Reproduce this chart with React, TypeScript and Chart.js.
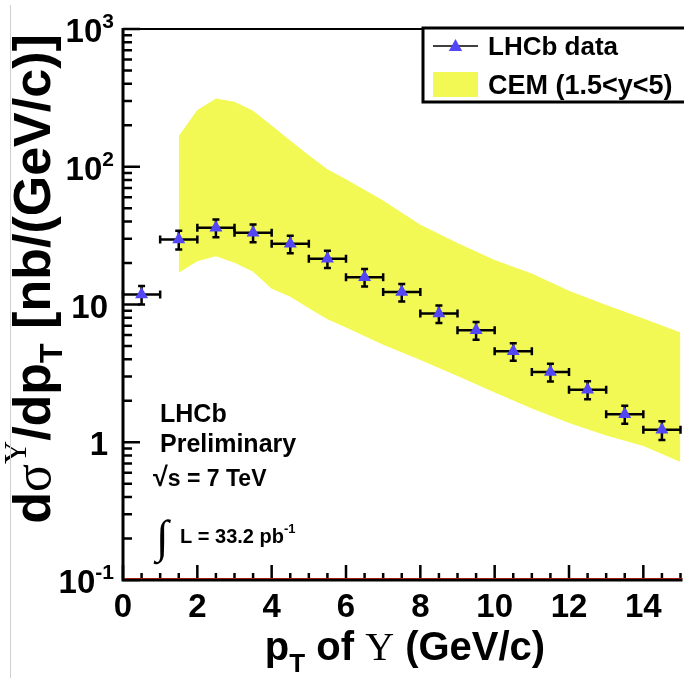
import React, { useEffect, useRef } from 'react';
import { Chart, registerables } from 'chart.js';

Chart.register(...registerables);

// ---------- data ----------
const ptBinCenters = [0.5, 1.5, 2.5, 3.5, 4.5, 5.5, 6.5, 7.5, 8.5, 9.5, 10.5, 11.5, 12.5, 13.5, 14.5];
const ptBinHalfWidths = [0.5, 0.5, 0.5, 0.5, 0.5, 0.5, 0.5, 0.5, 0.5, 0.5, 0.5, 0.5, 0.5, 0.5, 0.5];
const lhcbValues = [11.8, 29.7, 36.1, 33.2, 27.6, 21.5, 15.8, 12.3, 8.6, 6.5, 4.57, 3.24, 2.41, 1.6, 1.23];
const lhcbErrors = [1.8, 4.6, 5.3, 4.9, 4.0, 3.1, 2.3, 1.8, 1.25, 0.95, 0.67, 0.48, 0.36, 0.24, 0.19];

const cemPt = [1.5, 2, 2.5, 3, 3.5, 4, 4.5, 5, 5.5, 6, 7, 8, 9, 10, 11, 12, 13, 14, 15];
const cemUpper = [167, 258, 313, 296, 255, 199, 155, 121, 96, 81, 57, 38, 28, 21, 16.8, 12.6, 9.9, 7.9, 6.25];
const cemLower = [17, 20.6, 22.4, 20.1, 17.3, 13.0, 11.4, 9.4, 7.8, 6.8, 5.1, 3.95, 3.03, 2.3, 1.76, 1.38, 1.12, 0.94, 0.72];

const xTickValues = [0, 2, 4, 6, 8, 10, 12, 14];
const xTickLabels = ['0', '2', '4', '6', '8', '10', '12', '14'];
const yDecadeValues = [0.1, 1, 10, 100, 1000];
const yTickBases = ['10', '1', '10', '10', '10'];
const yTickExps = ['-1', '', '', '2', '3'];

const legendLabels = ['LHCb data', 'CEM (1.5<y<5)'];

// ---------- style ----------
const SANS = "'Liberation Sans', Arial, Helvetica, sans-serif";
const SERIF = "'Liberation Serif', 'DejaVu Serif', serif";
const YELLOW = 'rgb(243, 249, 84)';
const BLUE = 'rgb(82, 70, 245)';

type Seg = { t: string; f: string; dy?: number };

function richWidth(ctx: CanvasRenderingContext2D, segs: Seg[]) {
  let w = 0;
  for (const s of segs) {
    ctx.font = s.f;
    w += ctx.measureText(s.t).width;
  }
  return w;
}

function drawRich(ctx: CanvasRenderingContext2D, segs: Seg[], x: number, y: number, align: 'left' | 'center' | 'right') {
  const w = richWidth(ctx, segs);
  let cx = align === 'left' ? x : align === 'center' ? x - w / 2 : x - w;
  ctx.textAlign = 'left';
  ctx.textBaseline = 'alphabetic';
  for (const s of segs) {
    ctx.font = s.f;
    ctx.fillText(s.t, cx, y + (s.dy || 0));
    cx += ctx.measureText(s.t).width;
  }
}

function drawTriangle(ctx: CanvasRenderingContext2D, x: number, y: number, r: number) {
  ctx.beginPath();
  ctx.moveTo(x, y - r);
  ctx.lineTo(x + r * 0.95, y + r * 0.7);
  ctx.lineTo(x - r * 0.95, y + r * 0.7);
  ctx.closePath();
  ctx.fillStyle = BLUE;
  ctx.fill();
}

const errorBarPlugin = {
  id: 'errorBars',
  beforeDatasetDraw(chart: any, args: any) {
    if (args.index !== 2) return;
    const { ctx, scales } = chart;
    const xs = scales.x;
    const ys = scales.y;
    ctx.save();
    ctx.strokeStyle = '#000';
    ctx.lineWidth = 2.5;
    ctx.lineCap = 'butt';
    for (let i = 0; i < ptBinCenters.length; i++) {
      const c = ptBinCenters[i];
      const hw = ptBinHalfWidths[i];
      const v = lhcbValues[i];
      const e = lhcbErrors[i];
      const px = xs.getPixelForValue(c);
      const py = ys.getPixelForValue(v);
      const xl = xs.getPixelForValue(c - hw);
      const xr = xs.getPixelForValue(c + hw);
      const yt = ys.getPixelForValue(v + e);
      const yb = ys.getPixelForValue(v - e);
      ctx.beginPath();
      ctx.moveTo(xl, py);
      ctx.lineTo(xr, py);
      ctx.moveTo(xl, py - 4);
      ctx.lineTo(xl, py + 4);
      ctx.moveTo(xr, py - 4);
      ctx.lineTo(xr, py + 4);
      ctx.moveTo(px, yt);
      ctx.lineTo(px, yb);
      ctx.moveTo(px - 3.5, yt);
      ctx.lineTo(px + 3.5, yt);
      ctx.moveTo(px - 3.5, yb);
      ctx.lineTo(px + 3.5, yb);
      ctx.stroke();
    }
    ctx.restore();
  },
};

const framePlugin = {
  id: 'rootFrame',
  afterDraw(chart: any) {
    const { ctx, scales, chartArea } = chart;
    const xs = scales.x;
    const ys = scales.y;
    const L = chartArea.left;
    const R = chartArea.right;
    const T = chartArea.top;
    const B = chartArea.bottom;
    ctx.save();
    ctx.fillStyle = '#000';
    ctx.strokeStyle = '#000';

    // top frame line
    ctx.lineWidth = 2;
    ctx.beginPath();
    ctx.moveTo(L, T);
    ctx.lineTo(R + 2, T);
    ctx.stroke();

    // y ticks
    ctx.lineWidth = 2.5;
    ctx.beginPath();
    for (let d = -1; d < 3; d++) {
      for (let m = 1; m <= 9; m++) {
        const v = m * Math.pow(10, d);
        const py = ys.getPixelForValue(v);
        ctx.moveTo(L, py);
        ctx.lineTo(L + (m === 1 ? 17 : 9), py);
      }
    }
    const pTop = ys.getPixelForValue(1000);
    ctx.moveTo(L, pTop);
    ctx.lineTo(L + 17, pTop);
    ctx.stroke();

    // x ticks
    ctx.beginPath();
    for (let k = 0; k <= 30; k++) {
      const v = k * 0.5;
      const px = xs.getPixelForValue(v);
      ctx.moveTo(px, B);
      ctx.lineTo(px, B - (k % 4 === 0 ? 15 : 7));
    }
    ctx.stroke();

    // axis lines
    ctx.lineWidth = 3;
    ctx.beginPath();
    ctx.moveTo(L, T - 1);
    ctx.lineTo(L, B + 1.5);
    ctx.moveTo(L - 1.5, B);
    ctx.lineTo(R + 2, B);
    ctx.stroke();
    ctx.strokeStyle = '#a0180f';
    ctx.lineWidth = 1;
    ctx.beginPath();
    ctx.moveTo(L + 1.5, B - 1.5);
    ctx.lineTo(R + 2, B - 1.5);
    ctx.stroke();

    // y tick labels
    ctx.fillStyle = '#000';
    for (let i = 0; i < yDecadeValues.length; i++) {
      const py = ys.getPixelForValue(yDecadeValues[i]);
      const segs: Seg[] = [{ t: yTickBases[i], f: `bold 33px ${SANS}` }];
      if (yTickExps[i]) segs.push({ t: yTickExps[i], f: `bold 21px ${SANS}`, dy: -14 });
      drawRich(ctx, segs, yTickExps[i] ? 114 : 108, py + 13, 'right');
    }

    // x tick labels
    for (let i = 0; i < xTickValues.length; i++) {
      const px = xs.getPixelForValue(xTickValues[i]);
      drawRich(ctx, [{ t: xTickLabels[i], f: `bold 33px ${SANS}` }], px, 617, 'center');
    }

    // x title
    drawRich(
      ctx,
      [
        { t: 'p', f: `bold 40px ${SANS}` },
        { t: 'T', f: `bold 26px ${SANS}`, dy: 12 },
        { t: ' of ', f: `bold 40px ${SANS}` },
        { t: 'Υ', f: `40px ${SERIF}` },
        { t: ' (GeV/c)', f: `bold 40px ${SANS}` },
      ],
      405,
      660,
      'center'
    );

    // y title (rotated)
    ctx.save();
    ctx.translate(50, 279);
    ctx.rotate(-Math.PI / 2);
    drawRich(
      ctx,
      [
        { t: 'd', f: `bold 52px ${SANS}` },
        { t: 'σ', f: `52px ${SERIF}` },
        { t: 'Υ', f: `32px ${SERIF}`, dy: -24 },
        { t: '/dp', f: `bold 52px ${SANS}` },
        { t: 'T', f: `bold 32px ${SANS}`, dy: 12 },
        { t: ' [nb/(GeV/c)]', f: `bold 52px ${SANS}` },
      ],
      0,
      0,
      'center'
    );
    ctx.restore();

    // annotations
    drawRich(ctx, [{ t: 'LHCb', f: `bold 25px ${SANS}` }], 160, 422, 'left');
    drawRich(ctx, [{ t: 'Preliminary', f: `bold 25px ${SANS}` }], 160, 452, 'left');
    drawRich(
      ctx,
      [
        { t: '√', f: `bold 27px ${SANS}` },
        { t: 's = 7 TeV', f: `bold 23px ${SANS}` },
      ],
      153,
      486,
      'left'
    );
    drawRich(ctx, [{ t: '∫', f: `46px ${SERIF}` }], 156, 552, 'left');
    drawRich(
      ctx,
      [
        { t: 'L = 33.2 pb', f: `bold 20px ${SANS}` },
        { t: '-1', f: `bold 13px ${SANS}`, dy: -10 },
      ],
      180,
      543,
      'left'
    );

    // legend
    ctx.fillStyle = '#fff';
    ctx.fillRect(423, 28, 275, 74);
    ctx.strokeStyle = '#000';
    ctx.lineWidth = 3;
    ctx.strokeRect(423, 28, 275, 74);
    ctx.lineWidth = 1.5;
    ctx.beginPath();
    ctx.moveTo(433, 46);
    ctx.lineTo(478, 46);
    ctx.stroke();
    drawTriangle(ctx, 455.5, 46, 7);
    ctx.fillStyle = YELLOW;
    ctx.fillRect(433, 72, 45, 25);
    ctx.fillStyle = '#000';
    drawRich(ctx, [{ t: legendLabels[0], f: `bold 26px ${SANS}` }], 488, 55, 'left');
    drawRich(ctx, [{ t: legendLabels[1], f: `bold 27px ${SANS}` }], 488, 94, 'left');

    ctx.restore();
  },
};

export default function App() {
  const ref = useRef<HTMLCanvasElement | null>(null);

  useEffect(() => {
    if (!ref.current) return;
    const chart = new Chart(ref.current, {
      type: 'scatter',
      data: {
        datasets: [
          {
            type: 'line',
            label: 'CEM upper',
            data: cemPt.map((x, i) => ({ x, y: cemUpper[i] })),
            borderWidth: 0,
            borderColor: 'rgba(0,0,0,0)',
            backgroundColor: YELLOW,
            pointRadius: 0,
            tension: 0,
            fill: '+1',
            order: 2,
          },
          {
            type: 'line',
            label: 'CEM lower',
            data: cemPt.map((x, i) => ({ x, y: cemLower[i] })),
            borderWidth: 0,
            borderColor: 'rgba(0,0,0,0)',
            backgroundColor: YELLOW,
            pointRadius: 0,
            tension: 0,
            fill: false,
            order: 1,
          },
          {
            type: 'scatter',
            label: 'LHCb data',
            data: ptBinCenters.map((x, i) => ({ x, y: lhcbValues[i] })),
            pointStyle: 'triangle',
            pointRadius: 7.5,
            backgroundColor: BLUE,
            borderColor: BLUE,
            borderWidth: 0,
            showLine: false,
            order: 0,
          },
        ],
      },
      options: {
        animation: false,
        responsive: false,
        devicePixelRatio: 1,
        layout: { padding: { left: 123, top: 29, right: 1, bottom: 98 } },
        plugins: {
          legend: { display: false },
          tooltip: { enabled: false },
        },
        scales: {
          x: { type: 'linear', min: 0, max: 15, display: false },
          y: { type: 'logarithmic', min: 0.1, max: 1000, display: false },
        },
      },
      plugins: [errorBarPlugin, framePlugin],
    });
    return () => chart.destroy();
  }, []);

  return (
    <div
      style={{
        position: 'fixed',
        left: 0,
        top: 0,
        width: 684,
        height: 678,
        overflow: 'hidden',
        background: '#fff',
      }}
    >
      <div style={{ position: 'absolute', left: 10, top: 5, width: 1, height: 673, background: '#cfcfcf' }} />
      <canvas ref={ref} width={688} height={678} style={{ width: 688, height: 678, display: 'block' }} />
    </div>
  );
}
